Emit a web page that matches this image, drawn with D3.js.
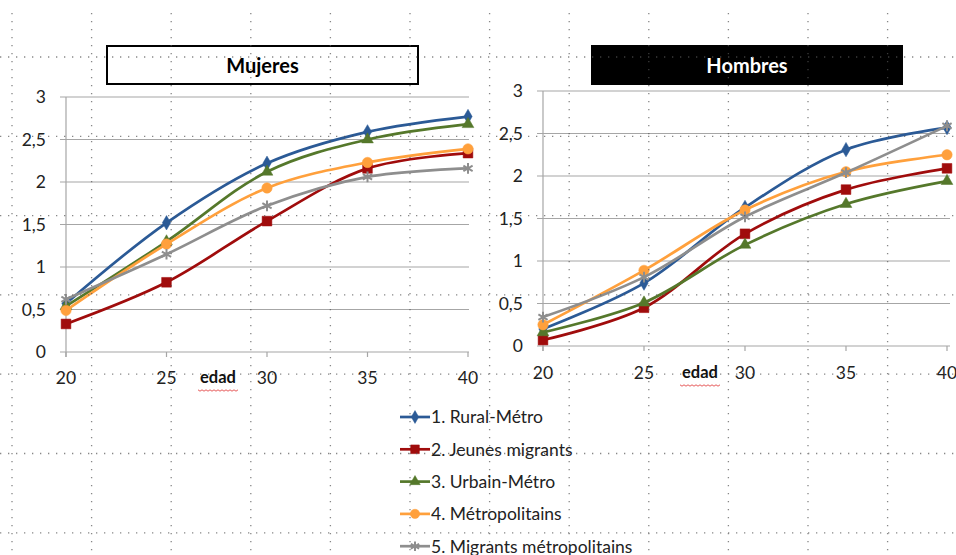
<!DOCTYPE html>
<html>
<head>
<meta charset="utf-8">
<script src="https://cdn.jsdelivr.net/npm/d3@7"></script>
<style>
  body { margin: 0; background: #fff; }
  svg { display: block; font-family: Lato, "Open Sans", sans-serif; }
</style>
</head>
<body>
<svg id="chart" width="956" height="555"></svg>
<script>
// data
const ages = [20, 25, 30, 35, 40];
const yTicks = [0, 0.5, 1, 1.5, 2, 2.5, 3];
const seriesNames = ["1. Rural-Métro", "2. Jeunes migrants", "3. Urbain-Métro", "4. Métropolitains", "5. Migrants métropolitains"];

const mujRural    = [0.57, 1.52, 2.22, 2.59, 2.77];
const mujJeunes   = [0.33, 0.82, 1.54, 2.16, 2.34];
const mujUrbain   = [0.54, 1.30, 2.12, 2.50, 2.68];
const mujMetro    = [0.49, 1.27, 1.93, 2.23, 2.39];
const mujMigrants = [0.62, 1.15, 1.72, 2.06, 2.16];

const homRural    = [0.20, 0.74, 1.63, 2.31, 2.57];
const homJeunes   = [0.07, 0.45, 1.32, 1.84, 2.09];
const homUrbain   = [0.16, 0.51, 1.19, 1.67, 1.94];
const homMetro    = [0.25, 0.89, 1.60, 2.05, 2.25];
const homMigrants = [0.34, 0.81, 1.52, 2.04, 2.59];

const colors = ["#2b5a96", "#a00c0c", "#55782b", "#ffa03c", "#8e8e8e"];
const symbols = [d3.symbolDiamond, d3.symbolSquare, d3.symbolTriangle, d3.symbolCircle, d3.symbolAsterisk];
const symSize = [60, 95, 60, 85, 80];

const svg = d3.select("#chart");
const gridColor = "#a6a6a6";

function panel(opts) {
  const x = d3.scaleLinear().domain([20, 40]).range([opts.x0, opts.x1]);
  const y = d3.scaleLinear().domain([0, 3]).range([opts.y0, opts.y1]);
  const g = svg.append("g");

  // horizontal gridlines
  g.append("g").selectAll("line")
    .data(yTicks)
    .join("line")
      .attr("x1", x(20) - 6)
      .attr("x2", opts.gridEnd)
      .attr("y1", d => y(d))
      .attr("y2", d => y(d))
      .attr("stroke", gridColor)
      .attr("stroke-width", 1.2);

  // vertical axis
  g.append("line")
    .attr("x1", x(20)).attr("x2", x(20))
    .attr("y1", y(3)).attr("y2", y(0) + 5)
    .attr("stroke", gridColor).attr("stroke-width", 1.2);

  g.append("g").selectAll("line")
    .data(ages)
    .join("line")
      .attr("x1", d => x(d)).attr("x2", d => x(d))
      .attr("y1", y(0)).attr("y2", y(0) + 5)
      .attr("stroke", gridColor).attr("stroke-width", 1.2);

  // y labels
  g.append("g").selectAll("text")
    .data(yTicks)
    .join("text")
      .attr("x", x(20) - 20)
      .attr("y", d => y(d))
      .attr("dy", "0.36em")
      .attr("text-anchor", "end")
      .attr("font-size", 17.5)
      .attr("fill", "#222")
      .text(d => d3.format("")(d).replace(".", ","));

  // x labels
  g.append("g").selectAll("text")
    .data(ages)
    .join("text")
      .attr("x", d => x(d))
      .attr("y", opts.xLabelY)
      .attr("dy", "0.36em")
      .attr("text-anchor", "middle")
      .attr("font-size", 17.5)
      .attr("fill", "#222")
      .text(d => d);

  // "edad" with spellcheck squiggle
  g.append("text")
    .attr("x", opts.edadX)
    .attr("y", opts.xLabelY)
    .attr("dy", "0.3em")
    .attr("text-anchor", "middle")
    .attr("font-size", 16.5)
    .attr("font-weight", "bold")
    .attr("fill", "#111")
    .text("edad");
  const sq = d3.range(0, 21).map(i => [opts.edadX - 20 + i * 2, opts.xLabelY + 12 + (i % 2 ? 1.2 : -0.2)]);
  g.append("path")
    .attr("d", d3.line()(sq))
    .attr("fill", "none")
    .attr("stroke", "#e03030")
    .attr("stroke-width", 0.8);

  // series
  const line = d3.line()
    .x((d, i) => x(ages[i]))
    .y(d => y(d))
    .curve(d3.curveCatmullRom.alpha(0.5));

  opts.series.forEach((vals, s) => {
    g.append("path")
      .attr("d", line(vals))
      .attr("fill", "none")
      .attr("stroke", colors[s])
      .attr("stroke-width", 2.7);
    g.append("g").selectAll("path")
      .data(vals)
      .join("path")
        .attr("transform", (d, i) => `translate(${x(ages[i])},${y(d)})`)
        .attr("d", d3.symbol(symbols[s], symSize[s]))
        .attr("fill", s === 4 ? "none" : colors[s])
        .attr("stroke", colors[s])
        .attr("stroke-width", s === 4 ? 2 : 0.5);
  });

  // title box
  g.append("rect")
    .attr("x", opts.box[0]).attr("y", 46)
    .attr("width", opts.box[1] - opts.box[0]).attr("height", 38)
    .attr("fill", opts.dark ? "#000" : "none")
    .attr("stroke", "#000")
    .attr("stroke-width", 2);
  g.append("text")
    .attr("x", (opts.box[0] + opts.box[1]) / 2)
    .attr("y", 66)
    .attr("dy", "0.35em")
    .attr("text-anchor", "middle")
    .attr("font-size", 20)
    .attr("font-weight", "bold")
    .attr("fill", opts.dark ? "#fff" : "#000")
    .text(opts.title);
}

panel({
  title: "Mujeres", dark: false, box: [107, 418],
  x0: 66, x1: 468, y0: 352, y1: 97, gridEnd: 469,
  xLabelY: 378, edadX: 218,
  series: [mujRural, mujJeunes, mujUrbain, mujMetro, mujMigrants]
});

panel({
  title: "Hombres", dark: true, box: [592, 902],
  x0: 543, x1: 947, y0: 346, y1: 91, gridEnd: 950,
  xLabelY: 373, edadX: 700,
  series: [homRural, homJeunes, homUrbain, homMetro, homMigrants]
});

// legend
const legend = svg.append("g")
  .selectAll("g")
  .data(seriesNames)
  .join("g")
    .attr("transform", (d, i) => `translate(400,${417 + i * 32.3})`);

legend.append("line")
  .attr("x1", 0).attr("x2", 30)
  .attr("stroke", (d, i) => colors[i])
  .attr("stroke-width", 2.7);
legend.append("path")
  .attr("transform", "translate(15,0)")
  .attr("d", (d, i) => d3.symbol(symbols[i], symSize[i] * 0.8)())
  .attr("fill", (d, i) => i === 4 ? "none" : colors[i])
  .attr("stroke", (d, i) => colors[i])
  .attr("stroke-width", (d, i) => i === 4 ? 2 : 0.5);
legend.append("text")
  .attr("x", 31)
  .attr("dy", "0.36em")
  .attr("font-size", 17.5)
  .attr("fill", "#222")
  .text(d => d);

// dotted sheet grid on top
const vx = d3.range(0, 13).map(k => 12 + k * 79.6);
const hy = d3.range(0, 7).map(k => 57 + k * 79.3);
const sheet = svg.append("g")
  .attr("stroke", "#555")
  .attr("stroke-width", 1.3)
  .attr("stroke-dasharray", "1.3,6.7")
  .attr("opacity", 0.7);
sheet.selectAll("line.v")
  .data(vx)
  .join("line")
    .attr("class", "v")
    .attr("x1", d => d).attr("x2", d => d)
    .attr("y1", 13).attr("y2", 555);
sheet.selectAll("line.h")
  .data(hy)
  .join("line")
    .attr("class", "h")
    .attr("x1", 0).attr("x2", 956)
    .attr("y1", d => d).attr("y2", d => d);
</script>
</body>
</html>
